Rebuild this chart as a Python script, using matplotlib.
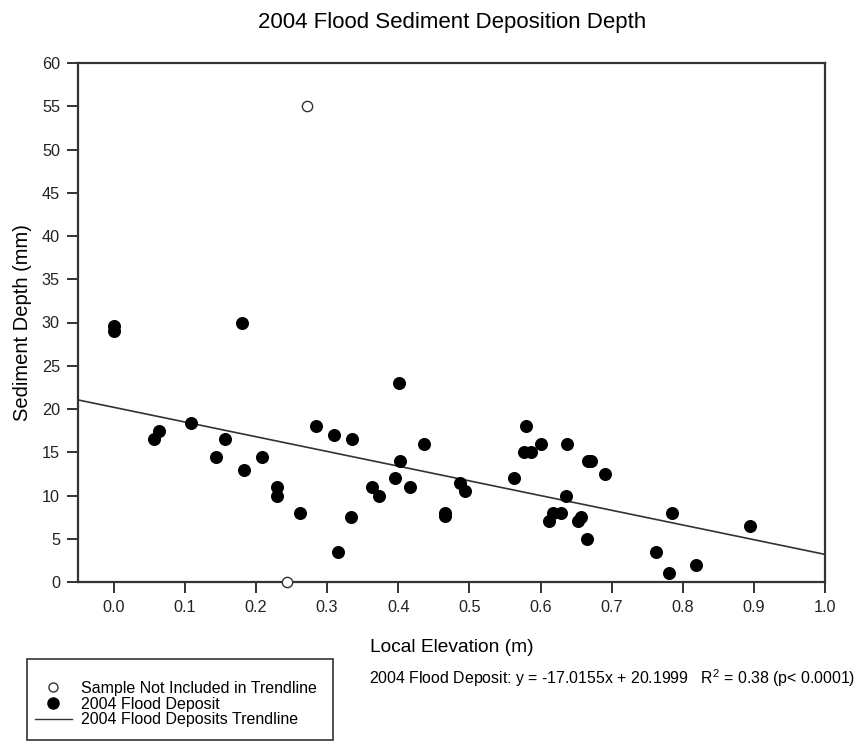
import matplotlib
matplotlib.use("Agg")
import matplotlib.pyplot as plt
from matplotlib.lines import Line2D
from matplotlib.patches import Rectangle
import numpy as np

plt.rcParams["font.family"] = ["Liberation Sans", "DejaVu Sans"]
plt.rcParams["mathtext.fontset"] = "custom"
plt.rcParams["mathtext.rm"] = "Liberation Sans"

# 2004 flood deposit samples: local elevation (m) vs sediment depth (mm)
elev = [0.0, 0.0, 0.0575, 0.0645, 0.109, 0.144, 0.157, 0.181, 0.183, 0.208,
        0.230, 0.230, 0.262, 0.285, 0.310, 0.316, 0.335, 0.334, 0.363, 0.3725,
        0.395, 0.401, 0.403, 0.416, 0.436, 0.466, 0.466, 0.487, 0.494, 0.562,
        0.576, 0.580, 0.587, 0.601, 0.612, 0.618, 0.629, 0.635, 0.637, 0.653,
        0.657, 0.665, 0.666, 0.671, 0.690, 0.762, 0.781, 0.784, 0.818, 0.894]
depth = [29.6, 29.0, 16.5, 17.5, 18.4, 14.5, 16.5, 30.0, 13.0, 14.5,
         11.0, 10.0, 8.0, 18.0, 17.0, 3.5, 16.5, 7.5, 11.0, 10.0,
         12.0, 23.0, 14.0, 11.0, 16.0, 8.0, 7.6, 11.5, 10.5, 12.0,
         15.0, 18.0, 15.0, 16.0, 7.0, 8.0, 8.0, 10.0, 16.0, 7.0,
         7.5, 5.0, 14.0, 14.0, 12.5, 3.5, 1.0, 8.0, 2.0, 6.5]

# samples left out of the regression
excl_elev = [0.272, 0.243]
excl_depth = [55.0, 0.0]

slope, intercept = -17.0155, 20.1999
r2 = 0.38

fig = plt.figure(figsize=(8.57, 7.5), dpi=100)
ax = fig.add_axes([0.091, 0.224, 0.872, 0.692])

xfit = np.array([-0.05, 1.0])
ax.plot(xfit, slope * xfit + intercept, color="#333333", lw=1.2, zorder=2)
ax.scatter(elev, depth, s=70, color="black", edgecolors="black", zorder=3)
ax.scatter(excl_elev, excl_depth, s=55, facecolors="white",
           edgecolors="#333333", linewidths=1.0, zorder=4, clip_on=False)

ax.set_xlim(-0.05, 1.0)
ax.set_ylim(0, 60)
ax.set_xticks(np.arange(0, 1.01, 0.1))
ax.set_xticklabels([f"{v:.1f}" for v in np.arange(0, 1.01, 0.1)])
ax.set_yticks(range(0, 61, 5))
ax.tick_params(direction="out", length=8, width=1.3, labelsize=11.7,
               colors="#222222", pad=5, top=False, right=False)
for sp in ax.spines.values():
    sp.set_linewidth(1.6)
    sp.set_color("#333333")

ax.set_xlabel("Local Elevation (m)", fontsize=13.8, labelpad=17)
ax.set_ylabel("Sediment Depth (mm)", fontsize=14.5, labelpad=7)
ax.set_title("2004 Flood Sediment Deposition Depth", fontsize=16, pad=25)

# legend: box drawn separately so its padding can be set freely
fig.patches.append(Rectangle((27 / 857, 1 - 740 / 750), 306 / 857, 81 / 750,
                             transform=fig.transFigure, fill=False,
                             edgecolor="#333333", lw=1.2))
handles = [
    Line2D([], [], ls="none", marker="o", markersize=6.5, mfc="white",
           mec="#333333"),
    Line2D([], [], ls="none", marker="o", markersize=8, color="black"),
    Line2D([], [], color="#333333", lw=1.0),
]
labels = ["Sample Not Included in Trendline", "2004 Flood Deposit",
          "2004 Flood Deposits Trendline"]
fig.legend(handles, labels, loc="center left",
           bbox_to_anchor=(35 / 857, 1 - 704 / 750), fontsize=11.5,
           frameon=False, handlelength=2.3, labelspacing=0.05,
           borderpad=0, borderaxespad=0, handletextpad=0.6)

fig.text(369 / 857, 1 - 678 / 750,
         f"2004 Flood Deposit: y = {slope}x + {intercept}   "
         f"R$^2$ = {r2} (p< 0.0001)",
         fontsize=11.4, va="center", ha="left")

fig.savefig("out.png", dpi=100, facecolor="white")
